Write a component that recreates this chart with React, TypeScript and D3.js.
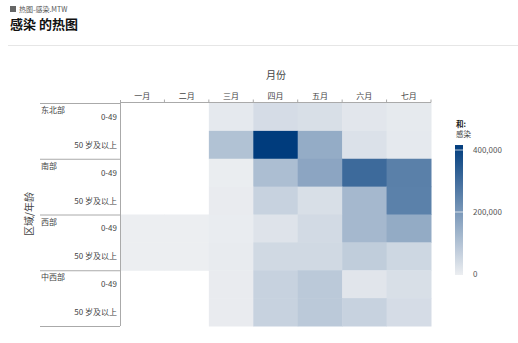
import React from "react";
import * as d3 from "d3";

const months = ["一月", "二月", "三月", "四月", "五月", "六月", "七月"];
const regions = ["东北部", "南部", "西部", "中西部"];
const ages = ["0-49", "50 岁及以上"];
// values per region/age row, by month (null = no data)
const neYoung = [null, null, 12000, 41000, 36000, 18000, 10000];
const neOld = [null, null, 104000, 416000, 155000, 30000, 12000];
const soYoung = [null, null, 3000, 112000, 170000, 308000, 257000];
const soOld = [null, null, 6000, 66000, 36000, 126000, 255000];
const weYoung = [0, 0, 5000, 25000, 46000, 126000, 157000];
const weOld = [0, 0, 7000, 50000, 50000, 78000, 54000];
const mwYoung = [null, null, 6000, 66000, 87000, 20000, 36000];
const mwOld = [null, null, 6000, 66000, 87000, 66000, 41000];
const rowsData = [neYoung, neOld, soYoung, soOld, weYoung, weOld, mwYoung, mwOld];
const legendTicks = [0, 200000, 400000];

const FONT = "'Noto Sans CJK SC', 'Noto Sans', sans-serif";

export default function App() {
  const rowKeys = regions.flatMap((r) => ages.map((a) => r + "|" + a));
  const x = d3.scaleBand<string>().domain(months).range([120, 431]);
  const y = d3.scaleBand<string>().domain(rowKeys).range([103, 326]);
  const vmax = d3.max(rowsData.flat().filter((v) => v != null) as number[]) as number;
  const color = d3.scaleLinear<string>().domain([0, vmax]).range(["#eceef1", "#003c7d"]).interpolate(d3.interpolateRgb);
  const ly = d3.scaleLinear().domain([0, 400000]).range([274, 150]);
  const gradStops = d3.range(0, 1.0001, 0.1);

  return (
    <svg width={518} height={343} style={{ position: "absolute", left: 0, top: 0, background: "#fff" }} fontFamily={FONT}>
      <defs>
        <linearGradient id="lg" x1="0" y1="1" x2="0" y2="0">
          {gradStops.map((t) => (
            <stop key={t} offset={t} stopColor={color(t * vmax)} />
          ))}
        </linearGradient>
      </defs>
      {/* header */}
      <rect x={10} y={6} width={6} height={6} fill="#666" />
      <text x={19} y={12} fontSize={7} fill="#555">热图-感染.MTW</text>
      <text x={10} y={29} fontSize={13} fontWeight="bold" fill="#111">感染 的热图</text>
      <line x1={8} x2={518} y1={45.5} y2={45.5} stroke="#e6e6e6" />

      {/* cells */}
      {rowsData.map((row, ri) =>
        row.map((v, ci) =>
          v == null ? null : (
            <rect key={ri + "-" + ci} x={x(months[ci])} y={y(rowKeys[ri])} width={x.bandwidth() + 0.5} height={y.bandwidth() + 0.5} fill={color(v)} />
          )
        )
      )}

      {/* top axis */}
      <text x={276} y={79} fontSize={10} fill="#444" textAnchor="middle">月份</text>
      <line x1={120} x2={431} y1={102.5} y2={102.5} stroke="#aaa" />
      {months.map((m, i) => (
        <g key={m}>
          <text x={(x(m) as number) + x.bandwidth() / 2} y={99} fontSize={8} fill="#444" textAnchor="middle">{m}</text>
          {i > 0 && <line x1={x(m)} x2={x(m)} y1={99.5} y2={102.5} stroke="#aaa" />}
        </g>
      ))}
      <line x1={431} x2={431} y1={99.5} y2={102.5} stroke="#aaa" />

      {/* left axis */}
      <line x1={120.5} x2={120.5} y1={100} y2={326} stroke="#aaa" />
      {regions.map((r, gi) => {
        const top = y(rowKeys[gi * 2]) as number;
        return (
          <g key={r}>
            <line x1={40} x2={120} y1={top + 0.5} y2={top + 0.5} stroke="#aaa" />
            <text x={41} y={top + 10} fontSize={8} fill="#444">{r}</text>
          </g>
        );
      })}
      <line x1={40} x2={120} y1={326.5} y2={326.5} stroke="#aaa" />
      {rowKeys.map((k) => (
        <text key={k} x={117} y={(y(k) as number) + y.bandwidth() / 2 + 3} fontSize={8} fill="#444" textAnchor="end">{k.split("|")[1]}</text>
      ))}
      <text transform="translate(33,214) rotate(-90)" fontSize={10} fill="#444" textAnchor="middle">区域/年龄</text>

      {/* legend */}
      <text x={456} y={127} fontSize={7.5} fontWeight="bold" fill="#222">和:</text>
      <text x={456} y={137} fontSize={7.5} fill="#444">感染</text>
      <rect x={455} y={ly(vmax)} width={8} height={ly(0) + 1 - ly(vmax)} fill="url(#lg)" />
      {legendTicks.map((t) => (
        <g key={t}>
          {t > 0 && <line x1={455} x2={463} y1={ly(t)} y2={ly(t)} stroke="#fff" strokeOpacity={0.7} />}
          <text x={473} y={ly(t) + 3} fontSize={8} fill="#555">{d3.format(",")(t)}</text>
        </g>
      ))}
    </svg>
  );
}
